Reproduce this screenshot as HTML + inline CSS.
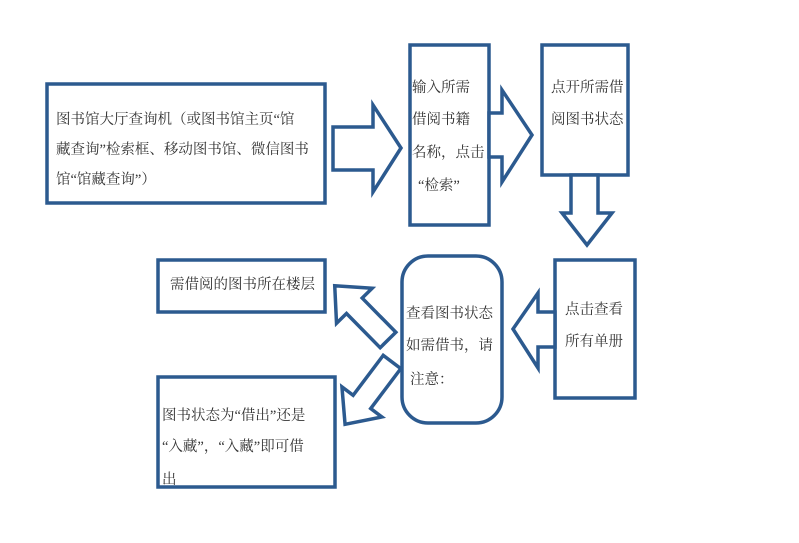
<!DOCTYPE html>
<html><head><meta charset="utf-8"><style>
html,body{margin:0;padding:0;background:#fff;}
svg{display:block;}
text{font-family:"Liberation Serif","Noto Serif CJK SC",serif;font-size:14.5px;fill:#333;}
</style></head><body>
<svg width="799" height="543" viewBox="0 0 799 543">
<g fill="#fff" stroke="#2c5a8f" stroke-width="3.5" stroke-linejoin="miter">
<rect x="47" y="84" width="278" height="119"/>
<polygon points="333,127 373,127 373,105 401,148 373,192 373,170 333,170"/>
<rect x="410" y="45" width="79" height="180"/>
<polygon points="489,113 502,113 502,90 532,135 502,182 502,157 489,157"/>
<rect x="542" y="45" width="86" height="130"/>
<polygon points="571,175 598,175 598,213 612,213 587,245 562,213 571,213"/>
<rect x="555" y="260" width="80" height="138"/>
<polygon points="555,312 538,312 538,293 513,329 538,368 538,347 555,347"/>
<rect x="402" y="256" width="100" height="167" rx="26" ry="26"/>
<rect x="158" y="260" width="167" height="52"/>
<rect x="158" y="377" width="177" height="110"/>
<g transform="translate(388,340) rotate(-134.5)"><polygon points="0,-11 48,-11 48,-25 76,0 48,25 48,11 0,11"/></g>
<g transform="translate(392,362) rotate(127)"><polygon points="0,-11 50,-11 50,-25 78,0 50,25 50,11 0,11"/></g>
</g>
<text x="56" y="124">图书馆大厅查询机（或图书馆主页“馆</text>
<text x="56" y="154">藏查询”检索框、移动图书馆、微信图书</text>
<text x="56" y="184">馆“馆藏查询”）</text>
<text x="412" y="92">输入所需</text>
<text x="412" y="124">借阅书籍</text>
<text x="412" y="157">名称，点击</text>
<text x="418" y="190">“检索”</text>
<text x="551" y="92">点开所需借</text>
<text x="551" y="124">阅图书状态</text>
<text x="565" y="314">点击查看</text>
<text x="565" y="346">所有单册</text>
<text x="406" y="318">查看图书状态</text>
<text x="406" y="350">如需借书，请</text>
<text x="410" y="384">注意：</text>
<text x="170" y="289">需借阅的图书所在楼层</text>
<text x="162" y="420">图书状态为“借出”还是</text>
<text x="162" y="451">“入藏”，“入藏”即可借</text>
<text x="162" y="484">出</text>
</svg>
</body></html>
